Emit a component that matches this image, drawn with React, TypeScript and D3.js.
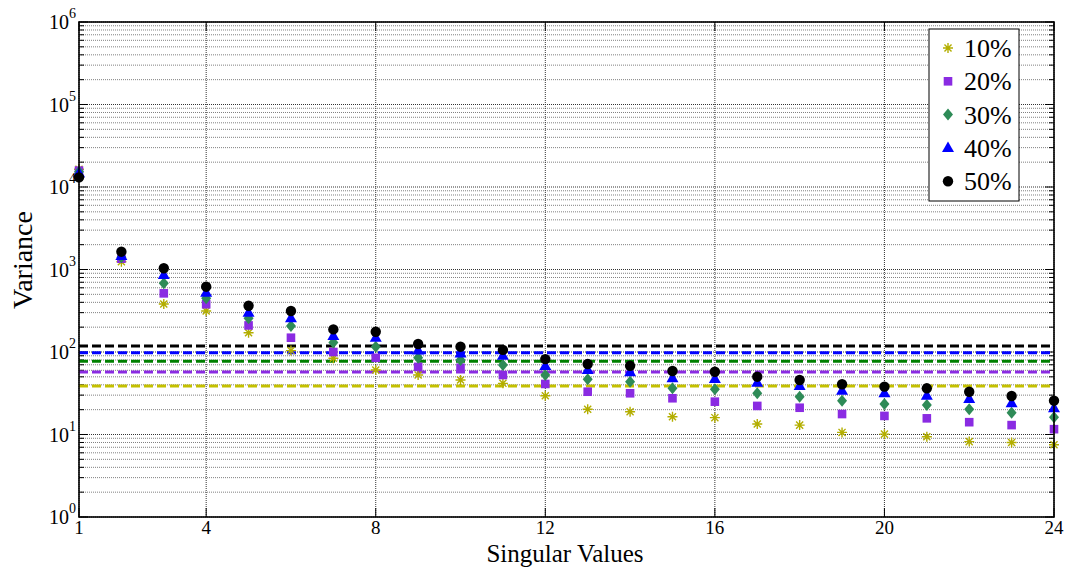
import React from 'react';
import * as d3 from 'd3';

// singular value index 1..24
const singular = d3.range(1, 25);

const series10 = [16400, 1244, 382, 314, 171, 104, 84, 60.5, 52.6, 45.8, 41.7, 29.5, 20.2, 18.9, 16.4, 16, 13.4, 13, 10.6, 10.1, 9.4, 8.2, 8, 7.5];
const series20 = [15800, 1353, 514, 379, 210, 149, 100, 85, 66, 64.5, 52.6, 41, 33, 31.6, 27.5, 25, 22.2, 21.1, 17.7, 16.8, 15.7, 14.1, 13, 11.6];
const series30 = [15300, 1405, 681, 448, 256, 207, 130, 116, 85, 80, 69.5, 52.6, 46.7, 43.7, 36.3, 35.3, 31.6, 28.7, 25.7, 23.4, 22.8, 20.2, 18.4, 16.2];
const series40 = [14700, 1458, 858, 524, 299, 256, 156, 149, 104, 96, 90, 67.6, 60.5, 56.7, 48, 47.1, 42.5, 38.7, 34, 31.6, 29.5, 26.9, 23.9, 20.8];
const series50 = [13100, 1644, 1035, 619, 364, 314, 188, 176, 125, 116, 106, 82, 71.6, 68, 58.9, 57.7, 50.2, 45.8, 40.6, 38, 36.3, 33, 29.3, 25.7];

// dashed threshold levels, one per series
const thresholds = [38.7, 57.3, 77, 98, 118];

const labels = ['10%', '20%', '30%', '40%', '50%'];
const xTicks = [1, 4, 8, 12, 16, 20, 24];
const decades = [0, 1, 2, 3, 4, 5, 6];

const W = 1068, H = 571;
const left = 79, right = 1054, top = 22, bottom = 517;

const markerColors = ['#b3ae00', '#8a2be2', '#2e8b57', '#0000ff', '#000000'];
const lineColors = ['#c4c000', '#8a2be2', '#008000', '#0000ff', '#000000'];
const shapes = ['star', 'square', 'diamond', 'triangle', 'circle'];
const serif = { fontFamily: '"Liberation Serif", "Times New Roman", serif' };

function Marker({ shape, x, y, color }: { shape: string; x: number; y: number; color: string }) {
  if (shape === 'circle') return <circle cx={x} cy={y} r={5.2} fill={color} />;
  if (shape === 'square') return <rect x={x - 4.3} y={y - 4.3} width={8.6} height={8.6} fill={color} />;
  if (shape === 'diamond')
    return <path d={`M${x},${y - 6}L${x + 5},${y}L${x},${y + 6}L${x - 5},${y}Z`} fill={color} />;
  if (shape === 'triangle')
    return <path d={`M${x},${y - 6.5}L${x + 6},${y + 4}L${x - 6},${y + 4}Z`} fill={color} />;
  // asterisk with 4 strokes
  const r = 5;
  const d = r * 0.707;
  return (
    <path
      d={`M${x - r},${y}H${x + r}M${x},${y - r}V${y + r}M${x - d},${y - d}L${x + d},${y + d}M${x - d},${y + d}L${x + d},${y - d}`}
      stroke={color}
      strokeWidth={1.4}
      fill="none"
    />
  );
}

export default function App() {
  const all = [series10, series20, series30, series40, series50];
  const x = d3.scaleLinear().domain([1, 24]).range([left, right]);
  const y = d3.scaleLog().domain([1, 1e6]).range([bottom, top]);

  const minor: number[] = [];
  decades.slice(0, -1).forEach(e => {
    for (let k = 2; k <= 9; k++) minor.push(k * Math.pow(10, e));
  });

  return (
    <svg width={W} height={H} style={{ position: 'absolute', left: 0, top: 0 }}>
      <rect width={W} height={H} fill="#fff" />
      {/* grid */}
      {minor.map(v => (
        <g key={'m' + v}>
          <line x1={left} x2={right} y1={y(v)} y2={y(v)} stroke="#808080" strokeWidth={1} strokeDasharray="1,1" />
          <line x1={left} x2={left + 5} y1={y(v)} y2={y(v)} stroke="#000" strokeWidth={1} />
          <line x1={right - 5} x2={right} y1={y(v)} y2={y(v)} stroke="#000" strokeWidth={1} />
        </g>
      ))}
      {decades.map(e => (
        <g key={'d' + e}>
          <line x1={left} x2={right} y1={y(Math.pow(10, e))} y2={y(Math.pow(10, e))} stroke="#333" strokeWidth={1} strokeDasharray="1,1" />
          <line x1={left} x2={left + 9} y1={y(Math.pow(10, e))} y2={y(Math.pow(10, e))} stroke="#000" strokeWidth={1} />
          <line x1={right - 9} x2={right} y1={y(Math.pow(10, e))} y2={y(Math.pow(10, e))} stroke="#000" strokeWidth={1} />
        </g>
      ))}
      {xTicks.map(t => (
        <g key={'x' + t}>
          <line x1={x(t)} x2={x(t)} y1={top} y2={bottom} stroke="#333" strokeWidth={1} strokeDasharray="1,1" />
          <line x1={x(t)} x2={x(t)} y1={bottom} y2={bottom - 9} stroke="#000" />
          <line x1={x(t)} x2={x(t)} y1={top} y2={top + 9} stroke="#000" />
        </g>
      ))}

      {/* dashed levels */}
      {thresholds.map((v, i) => (
        <line key={'t' + i} x1={left} x2={right} y1={y(v)} y2={y(v)} stroke={lineColors[i]} strokeWidth={3} strokeDasharray="9,4" />
      ))}

      {/* markers */}
      {all.map((s, i) => (
        <g key={'s' + i}>
          {s.map((v, j) => (
            <Marker key={j} shape={shapes[i]} x={x(singular[j])} y={y(v)} color={markerColors[i]} />
          ))}
        </g>
      ))}

      {/* axes box */}
      <rect x={left} y={top} width={right - left} height={bottom - top} fill="none" stroke="#000" strokeWidth={1.6} />

      {/* tick labels */}
      {decades.map(e => (
        <text key={'yl' + e} x={left - 3} y={y(Math.pow(10, e)) + 7} textAnchor="end" fontSize={20} style={serif}>
          10<tspan dy={-11} fontSize={14}>{e}</tspan>
        </text>
      ))}
      {xTicks.map(t => (
        <text key={'xl' + t} x={x(t)} y={534} textAnchor="middle" fontSize={19} style={serif}>{t}</text>
      ))}

      <text x={565} y={562} textAnchor="middle" fontSize={25} style={serif}>Singular Values</text>
      <text transform="translate(32,260) rotate(-90)" textAnchor="middle" fontSize={28} style={serif}>Variance</text>

      {/* legend */}
      <rect x={929} y={29} width={90} height={172} fill="#fff" stroke="#000" strokeWidth={1} />
      {labels.map((l, i) => (
        <g key={'lg' + i}>
          <Marker shape={shapes[i]} x={948} y={48 + i * 33.3} color={markerColors[i]} />
          <text x={964} y={57 + i * 33.3} fontSize={26} style={serif}>{l}</text>
        </g>
      ))}
    </svg>
  );
}
